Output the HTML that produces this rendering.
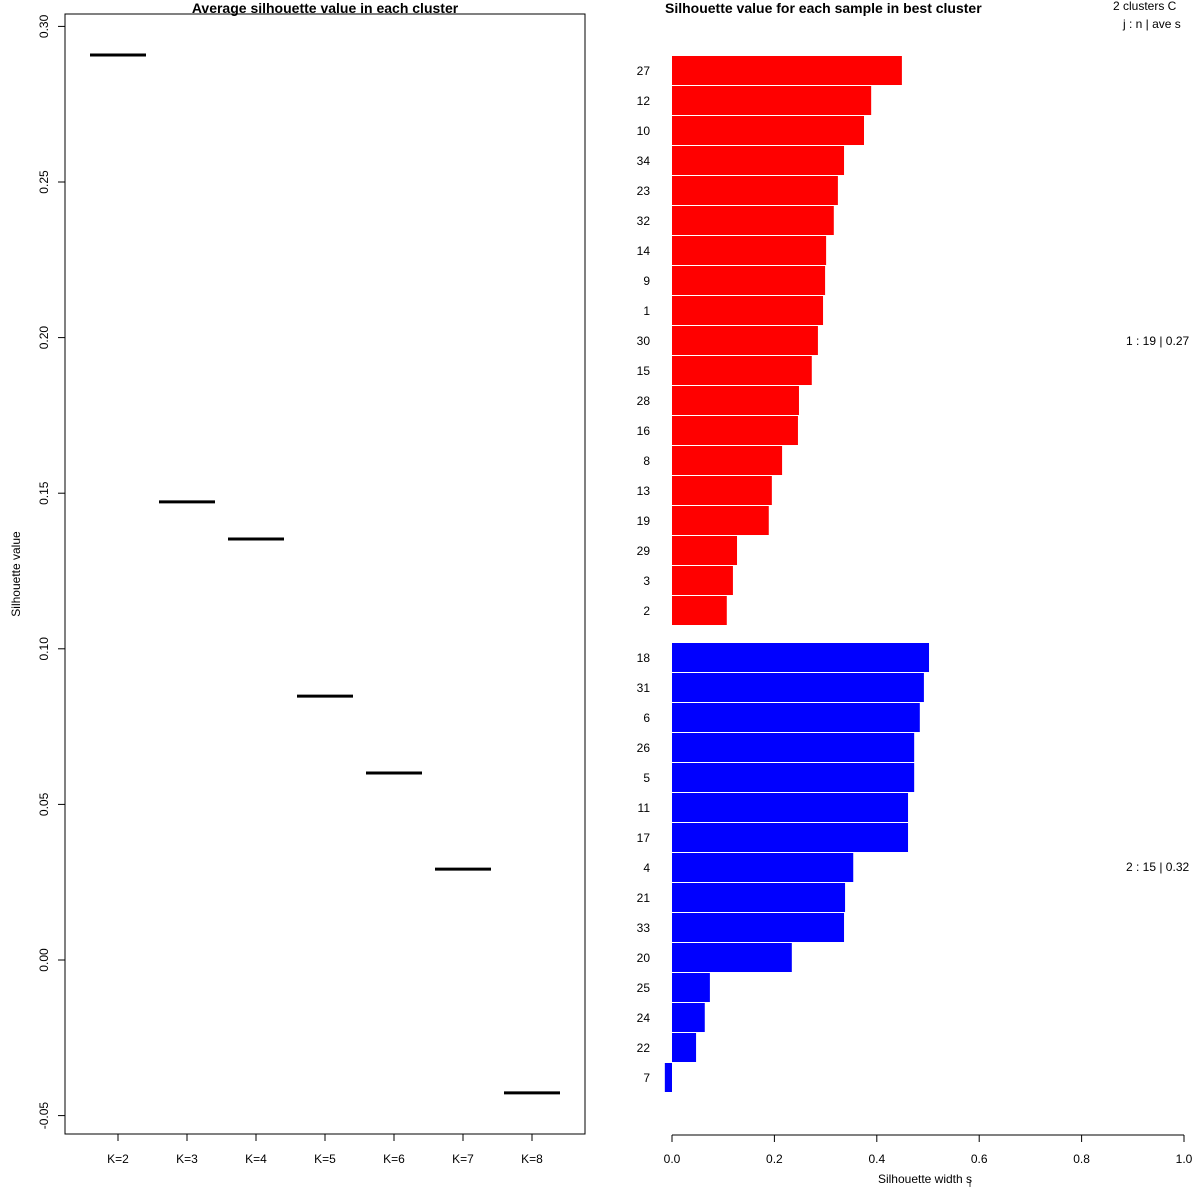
<!DOCTYPE html>
<html><head><meta charset="utf-8"><style>
body{margin:0;background:#fff}
svg{display:block;font-family:"Liberation Sans",sans-serif}
</style></head><body>
<svg id="c" width="1200" height="1200" viewBox="0 0 1200 1200">
<rect width="1200" height="1200" fill="#fff"/>
<g id="left"></g>
<g id="right"></g>
</svg>
<script>
const kLabels = ["K=2","K=3","K=4","K=5","K=6","K=7","K=8"];
const avgSil = [0.2908,0.1472,0.1353,0.0848,0.0601,0.0292,-0.0427];
const yTicks = [-0.05,0,0.05,0.10,0.15,0.20,0.25,0.30];
const yTickLabels = ["-0.05","0.00","0.05","0.10","0.15","0.20","0.25","0.30"];
const c1Ids = ["27","12","10","34","23","32","14","9","1","30","15","28","16","8","13","19","29","3","2"];
const c1Vals = [0.449,0.389,0.375,0.336,0.324,0.316,0.301,0.299,0.295,0.285,0.273,0.248,0.246,0.215,0.195,0.189,0.127,0.119,0.107];
const c2Ids = ["18","31","6","26","5","11","17","4","21","33","20","25","24","22","7"];
const c2Vals = [0.502,0.492,0.484,0.473,0.473,0.461,0.461,0.354,0.338,0.336,0.234,0.074,0.064,0.047,-0.014];
const xTicks = [0,0.2,0.4,0.6,0.8,1.0];
const xTickLabels = ["0.0","0.2","0.4","0.6","0.8","1.0"];

const NS="http://www.w3.org/2000/svg";
function mk(p,tag,a,t){const e=document.createElementNS(NS,tag);for(const k in a)e.setAttribute(k,a[k]);if(t!==undefined)e.textContent=t;p.appendChild(e);return e;}
const L=document.getElementById('left'),R=document.getElementById('right');
// left
const yS=v=>960-v*3112;
const xK=i=>118+i*69;
let e=mk(L,'rect',{x:65,y:14,width:520,height:1120,fill:'none',stroke:'#000','stroke-width':1});

yTicks.forEach((v,i)=>{
  e=mk(L,'line',{x1:58,x2:65,y1:yS(v),y2:yS(v),stroke:'#000'});
  
  e=mk(L,'text',{x:48,y:yS(v),'font-size':12,'text-anchor':'middle',transform:`rotate(-90 48 ${yS(v)})`},yTickLabels[i]);
  
});
kLabels.forEach((k,i)=>{
  e=mk(L,'line',{x1:xK(i),x2:xK(i),y1:1134,y2:1141,stroke:'#000'});
  
  e=mk(L,'text',{x:xK(i),y:1163,'font-size':12,'text-anchor':'middle'},k);
  
  e=mk(L,'line',{x1:xK(i)-28,x2:xK(i)+28,y1:yS(avgSil[i]),y2:yS(avgSil[i]),stroke:'#000','stroke-width':3});
  
});
e=mk(L,'text',{x:325,y:13,'font-size':14,'font-weight':'bold','text-anchor':'middle'},'Average silhouette value in each cluster');

e=mk(L,'text',{x:20,y:574,'font-size':12,'text-anchor':'middle',transform:'rotate(-90 20 574)'},'Silhouette value');

// right
const xS=v=>672+v*512;
function bars(ids,vals,top,color){
  ids.forEach((id,i)=>{
    const y=top+i*30,v=vals[i];
    e=mk(R,'rect',{x:Math.min(xS(0),xS(v)),y:y,width:Math.abs(xS(v)-xS(0)),height:29,fill:color});
    
    e=mk(R,'text',{x:650,y:y+19,'font-size':12,'text-anchor':'end'},id);
    
  });
}
bars(c1Ids,c1Vals,56,'#ff0000');
bars(c2Ids,c2Vals,643,'#0000ff');
e=mk(R,'line',{x1:xS(0),x2:xS(1),y1:1135,y2:1135,stroke:'#000'});

xTicks.forEach((v,i)=>{
  e=mk(R,'line',{x1:xS(v),x2:xS(v),y1:1135,y2:1142,stroke:'#000'});
  
  e=mk(R,'text',{x:xS(v),y:1163,'font-size':12,'text-anchor':'middle'},xTickLabels[i]);
  
});
e=mk(R,'text',{x:925,y:1183,'font-size':12,'text-anchor':'middle'},'Silhouette width s');

e=mk(R,'text',{x:969,y:1187,'font-size':9},'i');

e=mk(R,'text',{x:665,y:13,'font-size':14,'font-weight':'bold'},'Silhouette value for each sample in best cluster');

e=mk(R,'text',{x:1113,y:10,'font-size':12},'2  clusters  C');

e=mk(R,'text',{x:1123,y:28,'font-size':12},'j :  n  | ave     s');

e=mk(R,'text',{x:1126,y:345,'font-size':12},'1 :  19  |  0.27');

e=mk(R,'text',{x:1126,y:871,'font-size':12},'2 :  15  |  0.32');

</script>
</body></html>
